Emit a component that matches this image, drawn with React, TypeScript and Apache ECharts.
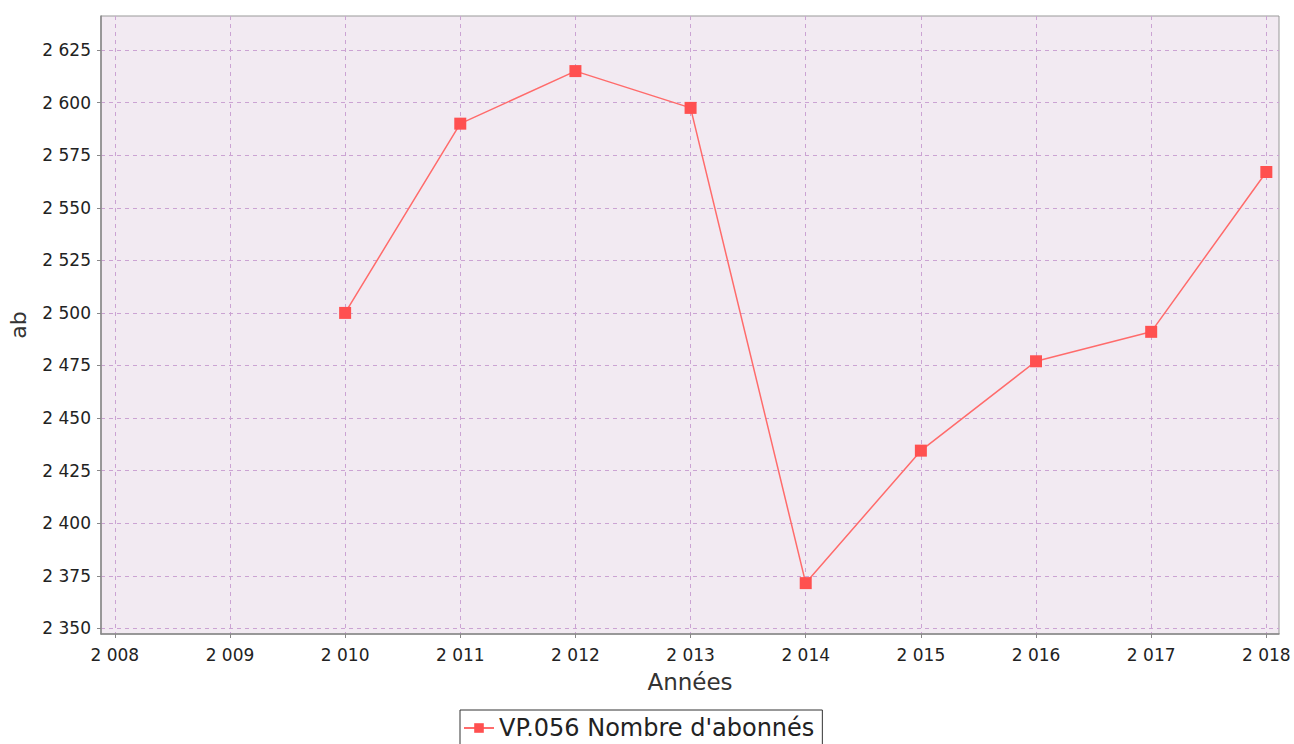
import React, { useEffect, useRef } from "react";
import * as echarts from "echarts";

const years = [2010, 2011, 2012, 2013, 2014, 2015, 2016, 2017, 2018];
const subscribers = [2500, 2590, 2615, 2597.5, 2371.5, 2434.5, 2477, 2491, 2567];
const xTicks = [2008, 2009, 2010, 2011, 2012, 2013, 2014, 2015, 2016, 2017, 2018];
const yTicks = [2350, 2375, 2400, 2425, 2450, 2475, 2500, 2525, 2550, 2575, 2600, 2625];
const seriesName = "VP.056 Nombre d'abonnés";

const fmt = (v: number) => String(Math.round(v)).replace(/\B(?=(\d{3})+(?!\d))/g, " ");

export default function App() {
  const ref = useRef<HTMLDivElement>(null);
  useEffect(() => {
    if (!ref.current) return;
    const chart = echarts.init(ref.current, null, { renderer: "svg" });
    const font = "DejaVu Sans";
    chart.setOption({
      animation: false,
      textStyle: { fontFamily: font },
      grid: {
        left: 101,
        top: 16,
        right: 15,
        bottom: 110,
        show: true,
        backgroundColor: "#f2eaf2",
        borderColor: "#999999",
        borderWidth: 1,
        outerBoundsMode: "none",
        containLabel: false,
      },
      xAxis: {
        type: "value",
        min: 2007.88,
        max: 2018.11,
        name: "Années",
        nameLocation: "middle",
        nameGap: 36,
        nameTextStyle: { fontSize: 23, color: "#333", fontFamily: font },
        axisLine: { show: true, lineStyle: { color: "#888", width: 1.5 } },
        axisTick: { show: true, length: 4, customValues: xTicks, lineStyle: { color: "#888" } },
        axisLabel: {
          customValues: xTicks,
          formatter: (v: number) => fmt(v),
          fontSize: 17,
          color: "#222",
          margin: 12,
          fontFamily: font,
        },
        splitLine: { show: true, lineStyle: { color: "#cba3d3", type: [4, 4], width: 1 } },
      },
      yAxis: {
        type: "value",
        min: 2347.3,
        max: 2641.2,
        name: "ab",
        nameLocation: "middle",
        nameGap: 72,
        nameTextStyle: { fontSize: 22, color: "#333", fontFamily: font },
        axisLine: { show: true, lineStyle: { color: "#888", width: 1.5 } },
        axisTick: { show: true, length: 4, customValues: yTicks, lineStyle: { color: "#888" } },
        axisLabel: {
          customValues: yTicks,
          formatter: (v: number) => fmt(v),
          fontSize: 17,
          color: "#222",
          margin: 10,
          fontFamily: font,
        },
        splitLine: { show: true, lineStyle: { color: "#cba3d3", type: [4, 4], width: 1 } },
      },
      legend: {
        show: true,
        left: 460,
        top: 710,
        data: [seriesName],
        borderColor: "#333",
        borderWidth: 1,
        borderRadius: 0,
        padding: [6, 8, 8, 3],
        itemWidth: 30,
        itemHeight: 12,
        itemGap: 5,
        textStyle: { fontSize: 24, color: "#222", fontFamily: font },
      },
      series: [
        {
          name: seriesName,
          type: "line",
          data: years.map((y, i) => [y, subscribers[i]]),
          symbol: "rect",
          symbolSize: 12,
          itemStyle: { color: "#ff5050" },
          lineStyle: { color: "#ff6b6b", width: 1.5 },
        },
      ],
    });
    return () => chart.dispose();
  }, []);
  return (
    <div
      ref={ref}
      style={{ position: "fixed", left: 0, top: 0, width: 1294, height: 744, background: "#fff" }}
    />
  );
}
